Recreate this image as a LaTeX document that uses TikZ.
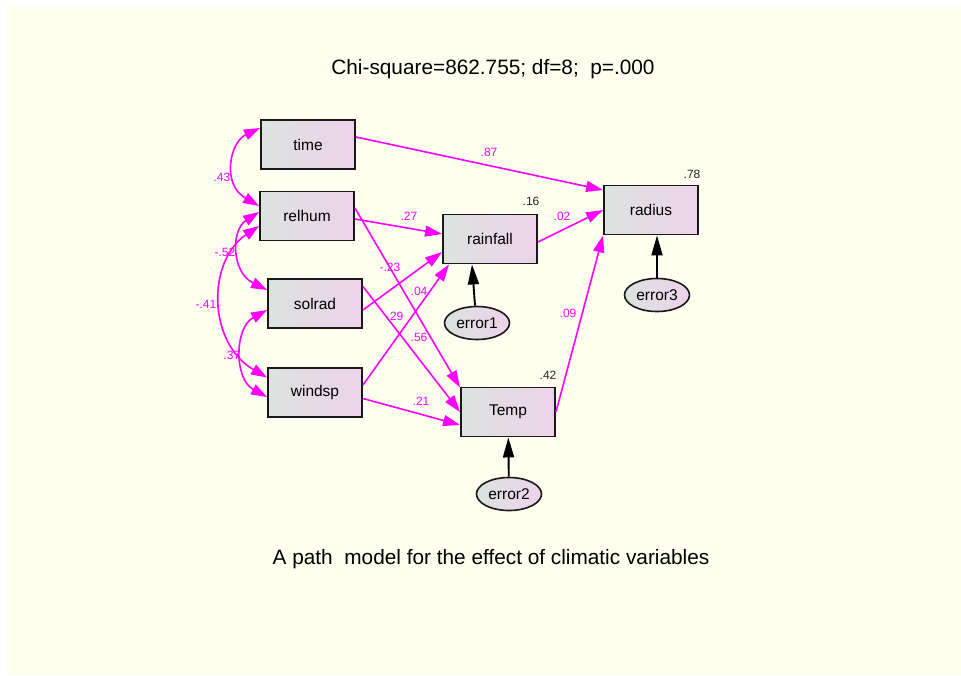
\documentclass[tikz,border=0pt]{standalone}
\usepackage{fontspec}
\setmainfont{Liberation Sans}
\usetikzlibrary{arrows.meta,calc,shapes.geometric}

\definecolor{paper}{HTML}{FEFFEF}
\definecolor{pathpink}{HTML}{FF00FF}
\definecolor{boxleft}{HTML}{DCE2DE}
\definecolor{boxright}{HTML}{EDD3EA}

\begin{document}
\begin{tikzpicture}[x=1pt,y=-1pt,
  var/.style={rectangle, draw=black!90, line width=1.9pt,
    minimum width=94pt, minimum height=49pt, inner sep=0pt,
    left color=boxleft, right color=boxright,
    font=\fontsize{15.5}{18}\selectfont},
  err/.style={ellipse, draw=black!90, line width=1.6pt,
    minimum width=65pt, minimum height=33pt, inner sep=0pt,
    left color=boxleft, right color=boxright,
    font=\fontsize{15.5}{18}\selectfont},
  reg/.style={draw=pathpink, line width=1.6pt,
    -{Triangle[length=17pt,width=11pt]}},
  cov/.style={draw=pathpink, line width=1.6pt,
    {Triangle[length=16pt,width=11pt]}-{Triangle[length=16pt,width=11pt]}},
  res/.style={draw=black, line width=1.9pt,
    -{Triangle[length=20pt,width=11pt]}},
  coef/.style={text=pathpink, inner sep=0pt,
    font=\fontsize{12}{14}\selectfont},
  rsq/.style={text=black!85, inner sep=0pt,
    font=\fontsize{12}{14}\selectfont}]

% page and paper
\useasboundingbox (0,0) rectangle (961,675);
\fill[white] (0,0) rectangle (961,675);
\fill[paper] (8,6) rectangle (961,675);

% heading and caption
\node[anchor=base, font=\fontsize{20.8}{24}\selectfont] (title) at (493,74)
  {Chi-square=862.755; df=8;\ \ p=.000};
\node[anchor=base, font=\fontsize{20.8}{24}\selectfont] (caption) at (491,564)
  {A path\ \ model for the effect of climatic variables};

% observed variables
\node[var] (time)     at (308,144.5) {time};
\node[var] (relhum)   at (307,216)   {relhum};
\node[var] (solrad)   at (315,303.5) {solrad};
\node[var] (windsp)   at (315,392.5) {windsp};
\node[var] (rainfall) at (490,239)   {rainfall};
\node[var] (temp)     at (508,412)   {Temp};
\node[var] (radius)   at (651,210)   {radius};

% residuals
\node[err] (e1) at (477,323) {error1};
\node[err] (e2) at (509,494) {error2};
\node[err] (e3) at (657,295) {error3};

% regression paths
\draw[reg] ($(time.east)+(0,-7.5)$) -- ($(radius.west)+(0,-20)$);
\draw[reg] ($(relhum.east)+(0,3)$) -- ($(rainfall.west)+(0,-5)$);
\draw[reg] ($(relhum.east)+(0,-8)$) -- ($(temp.north west)+(0,1)$);
\draw[reg] ($(solrad.east)+(0,6.5)$) -- ($(rainfall.west)+(0,13)$);
\draw[reg] ($(solrad.east)+(0,-17)$) -- (temp.west);
\draw[reg] ($(windsp.east)+(0,-7.5)$) -- ($(rainfall.south west)+(7,0)$);
\draw[reg] ($(windsp.east)+(0,6)$) -- ($(temp.west)+(0,13)$);
\draw[reg] ($(rainfall.east)+(0,3)$) -- (radius.west);
\draw[reg] (temp.east) -- (radius.south west);

% covariances among exogenous variables
\draw[cov] ($(time.west)+(0,-16.5)$) .. controls +(-30,14) and +(-38,-22) ..
  ($(relhum.west)+(0,-10)$);
\draw[cov] ($(relhum.west)+(0,-4)$) .. controls +(-28,18) and +(-36,-18) ..
  ($(solrad.west)+(0,-13.5)$);
\draw[cov] ($(relhum.west)+(0,10)$) .. controls +(-52,35) and +(-60,-35) ..
  ($(windsp.west)+(0,-15)$);
\draw[cov] ($(solrad.west)+(0,6.5)$) .. controls +(-33,18) and +(-33,-18) ..
  ($(windsp.west)+(0,4.5)$);

% residual paths
\draw[res] ($(e1.north)+(-2,0)$) -- ($(rainfall.south)+(-18,0)$);
\draw[res] (e2) -- (temp);
\draw[res] (e3.north) -- ($(radius.south)+(6,0)$);

% path coefficients
\node[coef] (c87) at (489,152) {.87};
\node[coef] (c27) at (409,216) {.27};
\node[coef] (c02) at (562,216) {.02};
\node[coef] (c23) at (390,267) {-.23};
\node[coef] (c04) at (419,291) {.04};
\node[coef] (c29) at (395,316) {.29};
\node[coef] (c56) at (419,337) {.56};
\node[coef] (c09) at (568,313) {.09};
\node[coef] (c21) at (421,401) {.21};
\node[coef] (c43) at (222,177) {.43};
\node[coef] (c52) at (225,252) {-.52};
\node[coef] (c41) at (206,304) {-.41};
\node[coef] (c37) at (232,355) {.37};

% squared multiple correlations
\node[rsq] (r16) at (531,201) {.16};
\node[rsq] (r42) at (548,375) {.42};
\node[rsq] (r78) at (692,174) {.78};
\end{tikzpicture}
\end{document}
